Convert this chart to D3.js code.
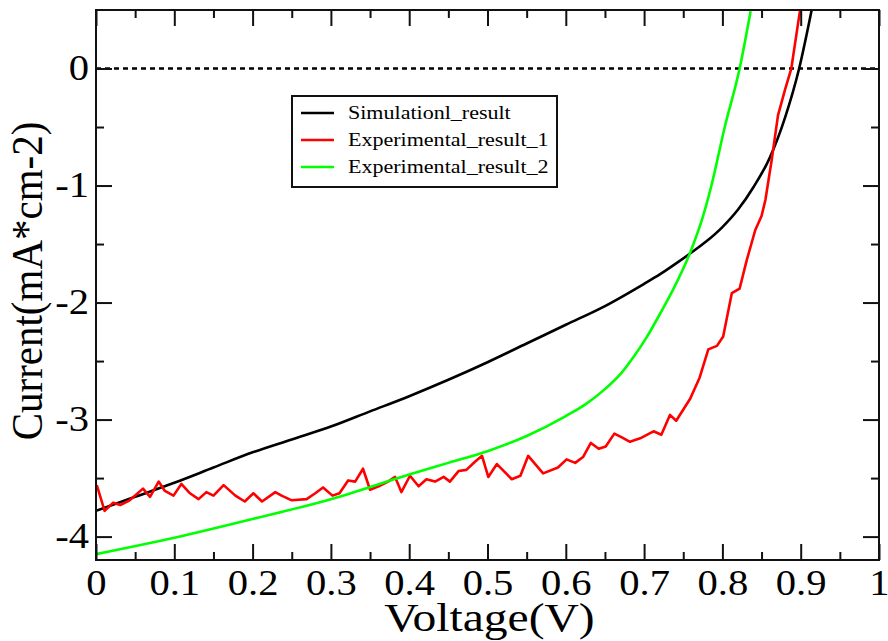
<!DOCTYPE html>
<html>
<head>
<meta charset="utf-8">
<script src="https://cdn.jsdelivr.net/npm/d3@7/dist/d3.min.js"></script>
<style>
  html, body { margin: 0; padding: 0; background: #fff; }
  svg { display: block; }
  text { font-family: "Liberation Serif", "Times New Roman", serif; fill: #000; }
</style>
</head>
<body>
<svg id="chart" width="888" height="641"></svg>
<script>
// J-V curves: simulation vs two measured cells
const simVoltage = [0, 0.05, 0.1, 0.15, 0.2, 0.25, 0.3, 0.35, 0.4, 0.45, 0.5, 0.55, 0.6, 0.65, 0.7, 0.72, 0.74, 0.76, 0.78, 0.8, 0.82, 0.84, 0.86, 0.88, 0.898, 0.914];
const simCurrent = [-3.78, -3.66, -3.54, -3.41, -3.28, -3.17, -3.06, -2.93, -2.80, -2.66, -2.51, -2.35, -2.19, -2.03, -1.84, -1.76, -1.67, -1.575, -1.475, -1.355, -1.205, -1.01, -0.77, -0.42, 0, 0.5];

const exp1Voltage = [0.001, 0.011, 0.022, 0.031, 0.043, 0.060, 0.069, 0.080, 0.088, 0.099, 0.109, 0.120, 0.131, 0.141, 0.150, 0.163, 0.178, 0.190, 0.201, 0.212, 0.229, 0.237, 0.250, 0.269, 0.280, 0.290, 0.302, 0.311, 0.322, 0.331, 0.341, 0.350, 0.361, 0.373, 0.382, 0.390, 0.401, 0.412, 0.422, 0.433, 0.444, 0.452, 0.463, 0.473, 0.484, 0.493, 0.501, 0.512, 0.531, 0.542, 0.552, 0.571, 0.590, 0.601, 0.612, 0.622, 0.632, 0.642, 0.651, 0.662, 0.671, 0.682, 0.695, 0.712, 0.722, 0.733, 0.741, 0.759, 0.771, 0.782, 0.793, 0.801, 0.812, 0.822, 0.831, 0.842, 0.850, 0.855, 0.863, 0.871, 0.880, 0.888, 0.899];
const exp1Current = [-3.56, -3.78, -3.71, -3.73, -3.69, -3.59, -3.66, -3.53, -3.61, -3.65, -3.55, -3.63, -3.68, -3.62, -3.65, -3.56, -3.65, -3.70, -3.63, -3.70, -3.62, -3.65, -3.69, -3.68, -3.63, -3.58, -3.65, -3.63, -3.52, -3.53, -3.42, -3.60, -3.57, -3.53, -3.49, -3.62, -3.48, -3.57, -3.51, -3.53, -3.49, -3.53, -3.44, -3.43, -3.36, -3.31, -3.49, -3.38, -3.51, -3.48, -3.31, -3.46, -3.41, -3.34, -3.37, -3.32, -3.20, -3.25, -3.23, -3.12, -3.15, -3.19, -3.16, -3.10, -3.13, -2.96, -3.01, -2.82, -2.64, -2.40, -2.37, -2.29, -1.92, -1.88, -1.64, -1.38, -1.26, -1.12, -0.78, -0.40, -0.18, 0.0, 0.49];

const exp2Voltage = [0, 0.1, 0.2, 0.3, 0.4, 0.45, 0.5, 0.55, 0.6, 0.625, 0.65, 0.67, 0.686, 0.703, 0.72, 0.737, 0.759, 0.774, 0.786, 0.803, 0.822, 0.836];
const exp2Current = [-4.15, -4.01, -3.85, -3.68, -3.47, -3.37, -3.27, -3.14, -2.97, -2.87, -2.74, -2.61, -2.47, -2.30, -2.10, -1.89, -1.57, -1.29, -1.00, -0.50, 0, 0.49];

const seriesNames = ["Simulationl_result", "Experimental_result_1", "Experimental_result_2"];
const seriesColors = ["#000000", "#ff0000", "#00ff00"];

const xTickValues = [0, 0.1, 0.2, 0.3, 0.4, 0.5, 0.6, 0.7, 0.8, 0.9, 1];
const xTickLabels = ["0", "0.1", "0.2", "0.3", "0.4", "0.5", "0.6", "0.7", "0.8", "0.9", "1"];
const xMinorTicks = [0.05, 0.15, 0.25, 0.35, 0.45, 0.55, 0.65, 0.75, 0.85, 0.95];
const yTickValues = [0, -1, -2, -3, -4];
const yTickLabels = ["0", "-1", "-2", "-3", "-4"];
const yMinorTicks = [-0.5, -1.5, -2.5, -3.5];

const xTitle = "Voltage(V)";
const yTitle = "Current(mA*cm-2)";

// Layout
const plot = { left: 96, right: 879, top: 10, bottom: 560 };
const SX = 1.16;             // glyphs are drawn slightly wide
const MAJOR = 16, MINOR = 8;

const svg = d3.select("#chart");

const x = d3.scaleLinear().domain([0, 1]).range([plot.left, plot.right]);
const y = d3.scaleLinear().domain([-4.2, 0.5]).range([plot.bottom, plot.top]);

svg.append("defs").append("clipPath").attr("id", "plotClip")
  .append("rect")
  .attr("x", plot.left).attr("y", plot.top)
  .attr("width", plot.right - plot.left).attr("height", plot.bottom - plot.top);

// zero reference line
svg.append("line")
  .attr("x1", x(0)).attr("x2", x(1))
  .attr("y1", y(0)).attr("y2", y(0))
  .attr("stroke", "#000").attr("stroke-width", 2.5)
  .attr("stroke-dasharray", "5,4");

// series
const zip = (xs, ys) => xs.map((v, i) => [v, ys[i]]);
const series = [
  { pts: zip(simVoltage, simCurrent), curve: d3.curveMonotoneX },
  { pts: zip(exp1Voltage, exp1Current), curve: d3.curveLinear },
  { pts: zip(exp2Voltage, exp2Current), curve: d3.curveMonotoneX }
];

const gLines = svg.append("g").attr("clip-path", "url(#plotClip)");
series.forEach((s, i) => {
  const line = d3.line().x(d => x(d[0])).y(d => y(d[1])).curve(s.curve);
  gLines.append("path")
    .datum(s.pts)
    .attr("d", line)
    .attr("fill", "none")
    .attr("stroke", seriesColors[i])
    .attr("stroke-width", 2.6)
    .attr("stroke-linejoin", "round");
});

// axes with inward ticks on all four sides
function styleAxis(g) {
  g.select(".domain").remove();
  g.selectAll(".tick line").attr("stroke", "#111").attr("stroke-width", 2);
}
function styleLabels(g) {
  g.selectAll("text")
    .attr("font-size", 35)
    .attr("font-family", "Liberation Serif")
    .attr("fill", "#111")
    .attr("transform", `scale(${SX},1)`);
}

const xLabel = d => xTickLabels[xTickValues.indexOf(d)];
const yLabel = d => yTickLabels[yTickValues.indexOf(d)];

svg.append("g").attr("transform", `translate(0,${plot.bottom})`)
  .call(d3.axisBottom(x).tickValues(xTickValues).tickFormat(xLabel).tickSize(-MAJOR).tickPadding(10))
  .call(styleAxis)
  .call(styleLabels);
svg.append("g").attr("transform", `translate(0,${plot.bottom})`)
  .call(d3.axisBottom(x).tickValues(xMinorTicks).tickFormat("").tickSize(-MINOR))
  .call(styleAxis);

svg.append("g").attr("transform", `translate(0,${plot.top})`)
  .call(d3.axisTop(x).tickValues(xTickValues).tickFormat("").tickSize(-MAJOR))
  .call(styleAxis);
svg.append("g").attr("transform", `translate(0,${plot.top})`)
  .call(d3.axisTop(x).tickValues(xMinorTicks).tickFormat("").tickSize(-MINOR))
  .call(styleAxis);

svg.append("g").attr("transform", `translate(${plot.left},0)`)
  .call(d3.axisLeft(y).tickValues(yTickValues).tickFormat(yLabel).tickSize(-MAJOR).tickPadding(6))
  .call(styleAxis)
  .call(styleLabels);
svg.append("g").attr("transform", `translate(${plot.left},0)`)
  .call(d3.axisLeft(y).tickValues(yMinorTicks).tickFormat("").tickSize(-MINOR))
  .call(styleAxis);

svg.append("g").attr("transform", `translate(${plot.right},0)`)
  .call(d3.axisRight(y).tickValues(yTickValues).tickFormat("").tickSize(-MAJOR))
  .call(styleAxis);
svg.append("g").attr("transform", `translate(${plot.right},0)`)
  .call(d3.axisRight(y).tickValues(yMinorTicks).tickFormat("").tickSize(-MINOR))
  .call(styleAxis);

// frame
svg.append("rect")
  .attr("x", plot.left).attr("y", plot.top)
  .attr("width", plot.right - plot.left).attr("height", plot.bottom - plot.top)
  .attr("fill", "none").attr("stroke", "#111").attr("stroke-width", 2);

// axis titles
svg.append("text")
  .attr("transform", `translate(${(plot.left + plot.right) / 2 + 2},631) scale(${SX},1)`)
  .attr("text-anchor", "middle")
  .attr("font-size", 41)
  .attr("fill", "#111")
  .text(xTitle);

svg.append("text")
  .attr("transform", `translate(42,281) scale(1.1,1) rotate(-90)`)
  .attr("text-anchor", "middle")
  .attr("font-size", 41)
  .attr("fill", "#111")
  .text(yTitle);

// legend
const legend = { x: 292, y: 96, w: 265, h: 91, rows: [113, 140, 167] };
svg.append("rect")
  .attr("x", legend.x).attr("y", legend.y)
  .attr("width", legend.w).attr("height", legend.h)
  .attr("fill", "#fff").attr("stroke", "#111").attr("stroke-width", 2);

seriesNames.forEach((name, i) => {
  const cy = legend.rows[i];
  svg.append("line")
    .attr("x1", 301).attr("x2", 334)
    .attr("y1", cy).attr("y2", cy)
    .attr("stroke", seriesColors[i]).attr("stroke-width", 2.6);
  svg.append("text")
    .attr("transform", `translate(348,${cy}) scale(${SX},1)`)
    .attr("dy", "0.34em")
    .attr("font-size", 19)
    .attr("fill", "#222")
    .text(name);
});
</script>
</body>
</html>
